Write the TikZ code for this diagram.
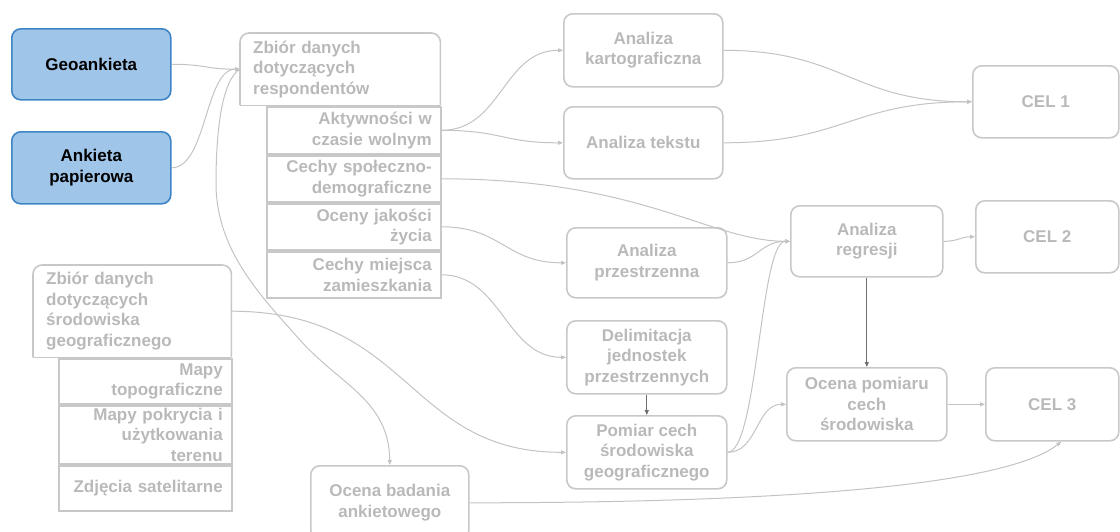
\documentclass[tikz,border=0pt]{standalone}
\usepackage{fontspec}
\setmainfont{Liberation Sans}
\usetikzlibrary{arrows.meta}
\definecolor{boxline}{RGB}{200,200,200}
\definecolor{boxtext}{RGB}{185,185,185}
\definecolor{wirecol}{RGB}{195,195,195}
\definecolor{darkwire}{RGB}{110,110,110}
\definecolor{bluefill}{RGB}{159,197,232}
\definecolor{blueline}{RGB}{61,133,198}

\begin{document}
\begin{tikzpicture}[x=1pt,y=-1pt,
  lbl/.style={font=\fontsize{17}{20.5}\selectfont\bfseries, text=boxtext},
  rbox/.style={lbl, draw=boxline, line width=1.6pt, rounded corners=9pt, anchor=north west, inner sep=0pt, align=center},
  srcbox/.style={rbox, fill=bluefill, draw=blueline, text=black},
  head/.style={lbl, anchor=north west, inner xsep=13pt, inner ysep=0pt, align=left},
  item/.style={lbl, draw=boxline, line width=1.6pt, anchor=north west, inner xsep=9pt, inner ysep=0pt, align=right},
  outline/.style={draw=boxline, line width=1.6pt},
  wire/.style={draw=wirecol, line width=1pt, -{Triangle[length=5pt,width=4pt]}},
  dwire/.style={draw=darkwire, line width=1pt, -{Triangle[length=5pt,width=4pt]}}
]
\useasboundingbox (0,0) rectangle (1120,531);
\clip (0,0) rectangle (1120,531);

% survey sources
\node[srcbox, minimum width=159pt, minimum height=71pt] (geo) at (11,28) {Geoankieta};
\node[srcbox, minimum width=159pt, minimum height=72pt] (pap) at (11,131) {Ankieta\\papierowa};

% respondents data set
\node[head, text width=174pt, minimum height=72pt] (resp) at (240,33) {Zbiór danych\\dotyczących\\respondentów};
\draw[outline, rounded corners=9pt] (resp.south east) -- (resp.north east) -- (resp.north west) -- (resp.south west);
\draw[outline] (resp.south west) -- (resp.south east);
\node[item, text width=156pt, minimum height=47pt] (akt) at (266,106) {Aktywności w\\czasie wolnym};
\node[item, text width=156pt, minimum height=46pt] (spo) at (266,155) {Cechy społeczno-\\demograficzne};
\node[item, text width=156pt, minimum height=46pt] (oce) at (266,203) {Oceny jakości\\życia};
\node[item, text width=156pt, minimum height=46pt] (mie) at (266,251) {Cechy miejsca\\zamieszkania};

% geographic environment data set
\node[head, text width=172pt, minimum height=92pt] (env) at (33,265) {Zbiór danych\\dotyczących\\środowiska\\geograficznego};
\draw[outline, rounded corners=9pt] (env.south east) -- (env.north east) -- (env.north west) -- (env.south west);
\draw[outline] (env.south west) -- (env.south east);
\node[item, text width=155pt, minimum height=45pt] (topo) at (58,358) {Mapy\\topograficzne};
\node[item, text width=155pt, minimum height=58pt] (pok) at (58,405) {Mapy pokrycia i\\użytkowania\\terenu};
\node[item, text width=155pt, minimum height=45pt] (zdj) at (58,465) {Zdjęcia satelitarne};

% analyses
\node[rbox, minimum width=159pt, minimum height=73pt] (kart) at (563,13) {Analiza\\kartograficzna};
\node[rbox, minimum width=159pt, minimum height=72pt] (tek) at (563,106) {Analiza tekstu};
\node[rbox, minimum width=160pt, minimum height=70pt] (prz) at (566,227) {Analiza\\przestrzenna};
\node[rbox, minimum width=160pt, minimum height=73pt] (del) at (566,320) {Delimitacja\\jednostek\\przestrzennych};
\node[rbox, minimum width=160pt, minimum height=73pt] (pom) at (566,415) {Pomiar cech\\środowiska\\geograficznego};
\node[rbox, minimum width=152pt, minimum height=71pt] (reg) at (790,205) {Analiza\\regresji};
\node[rbox, minimum width=160pt, minimum height=73pt] (ocp) at (786,367) {Ocena pomiaru\\cech\\środowiska};
\node[rbox, minimum width=158pt, minimum height=74pt] (ocb) at (310,465) {Ocena badania\\ankietowego};

% goals
\node[rbox, minimum width=146pt, minimum height=72pt] (cel1) at (972,65) {CEL 1};
\node[rbox, minimum width=143pt, minimum height=72pt] (cel2) at (975,200) {CEL 2};
\node[rbox, minimum width=133pt, minimum height=73pt] (cel3) at (985,367) {CEL 3};

% connectors
\draw[wire] (geo.east) .. controls +(35,0) and +(-35,0) .. (resp.west);
\draw[wire] (pap.east) .. controls +(35,0) and +(-35,0) .. (resp.west);
\draw[wire] (resp.west) .. controls (222,80) and (216,130) .. (216,183)
  .. controls (216,250) and (260,295) .. (300,340)
  .. controls (340,385) and (389,400) .. (ocb.north);
\draw[wire] (akt.east) .. controls +(60,0) and +(-60,0) .. (kart.west);
\draw[wire] (akt.east) .. controls +(60,0) and +(-60,0) .. (tek.west);
\draw[wire] (spo.east) .. controls +(200,0) and +(-80,0) .. (reg.west);
\draw[wire] (oce.east) .. controls +(60,0) and +(-60,0) .. (prz.west);
\draw[wire] (mie.east) .. controls +(60,0) and +(-60,0) .. (del.west);
\draw[wire] (env.east) .. controls +(180,0) and +(-160,0) .. (pom.west);
\draw[wire] (kart.east) .. controls +(120,0) and +(-120,0) .. (cel1.west);
\draw[wire] (tek.east) .. controls +(120,0) and +(-120,0) .. (cel1.west);
\draw[wire] (prz.east) .. controls +(30,0) and +(-30,0) .. (reg.west);
\draw[wire] (pom.east) .. controls +(30,0) and +(-30,0) .. (reg.west);
\draw[wire] (pom.east) .. controls +(30,0) and +(-30,0) .. (ocp.west);
\draw[wire] (reg.east) .. controls +(15,0) and +(-15,0) .. (cel2.west);
\draw[wire] (ocp.east) -- (cel3.west);
\draw[wire] (ocb.east) .. controls +(350,0) and +(-50,40) .. ([xshift=9pt]cel3.south);
\draw[dwire] (reg.south) -- (ocp.north);
\draw[dwire] (del.south) -- (pom.north);
\end{tikzpicture}
\end{document}
